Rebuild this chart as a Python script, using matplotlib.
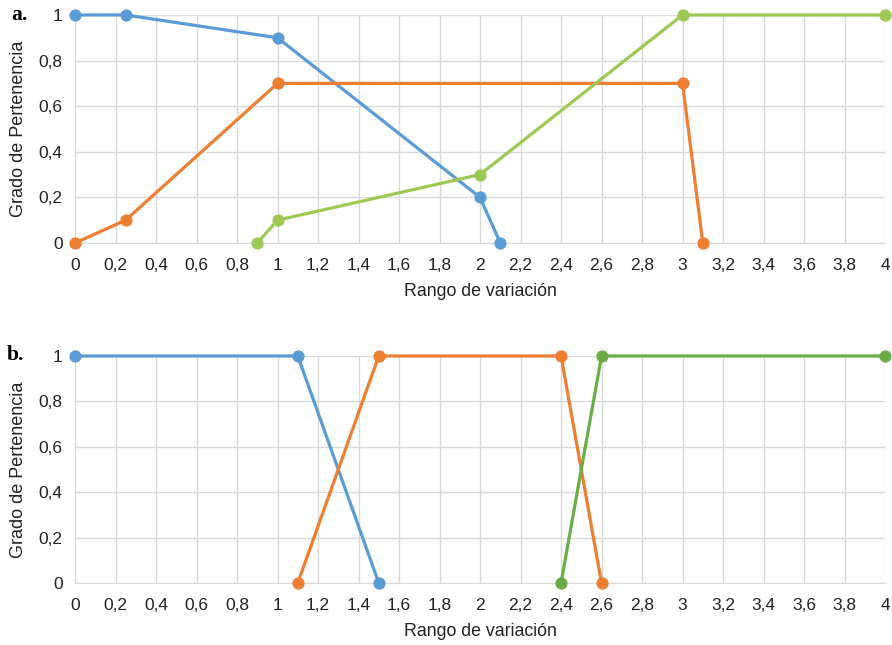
import matplotlib.pyplot as plt
import numpy as np

plt.rcParams['font.family'] = ['Liberation Sans', 'DejaVu Sans']

# panel a
a_blue_x = [0, 0.25, 1, 2, 2.1]
a_blue_y = [1, 1, 0.9, 0.2, 0]
a_orange_x = [0, 0.25, 1, 3, 3.1]
a_orange_y = [0, 0.1, 0.7, 0.7, 0]
a_green_x = [0.9, 1, 2, 3, 4]
a_green_y = [0, 0.1, 0.3, 1, 1]

# panel b
b_blue_x = [0, 1.1, 1.5]
b_blue_y = [1, 1, 0]
b_orange_x = [1.1, 1.5, 2.4, 2.6]
b_orange_y = [0, 1, 1, 0]
b_green_x = [2.4, 2.6, 4]
b_green_y = [0, 1, 1]

xticks = np.round(np.arange(0, 4.01, 0.2), 1)
yticks = np.round(np.arange(0, 1.01, 0.2), 1)


def fmt(v):
    s = ('%.1f' % v).rstrip('0').rstrip('.')
    return s.replace('.', ',')


fig = plt.figure(figsize=(8.92, 6.45), dpi=100)
ax1 = fig.add_axes([0.0841, 0.6233, 0.9081, 0.3535])
ax2 = fig.add_axes([0.0841, 0.0961, 0.9081, 0.352])

panels = [
    (ax1, [(a_blue_x, a_blue_y, '#5B9BD5'),
           (a_orange_x, a_orange_y, '#ED7D31'),
           (a_green_x, a_green_y, '#9DC853')]),
    (ax2, [(b_blue_x, b_blue_y, '#5B9BD5'),
           (b_orange_x, b_orange_y, '#ED7D31'),
           (b_green_x, b_green_y, '#6AAD46')]),
]

for ax, series in panels:
    for xs, ys, c in series:
        ax.plot(xs, ys, color=c, lw=2.3, marker='o', ms=7.8, clip_on=False, zorder=3)
    ax.set_xlim(0, 4)
    ax.set_ylim(0, 1)
    ax.set_xticks(xticks)
    ax.set_xticklabels([fmt(v) for v in xticks])
    ax.set_yticks(yticks)
    ax.set_yticklabels([fmt(v) for v in yticks])
    ax.grid(True, color='#D9D9D9', lw=1)
    ax.set_axisbelow(True)
    for s in ['top', 'right', 'left']:
        ax.spines[s].set_visible(False)
    ax.spines['bottom'].set_color('#D9D9D9')
    ax.tick_params(axis='x', length=0, labelsize=12.5, colors='#222222', pad=11)
    ax.tick_params(axis='y', length=0, labelsize=12.5, colors='#222222', pad=9)
    ax.set_xlabel('Rango de variación', fontsize=12.8, color='#222222', labelpad=7)
    ax.set_ylabel('Grado de Pertenencia', fontsize=13, color='#222222', labelpad=8)

fig.text(0.013, 0.977, 'a.', fontsize=15.5, fontweight='bold', family='Liberation Serif',
         ha='left', va='center')
fig.text(0.008, 0.45, 'b.', fontsize=15.5, fontweight='bold', family='Liberation Serif',
         ha='left', va='center')

fig.savefig('out.png', dpi=100)
